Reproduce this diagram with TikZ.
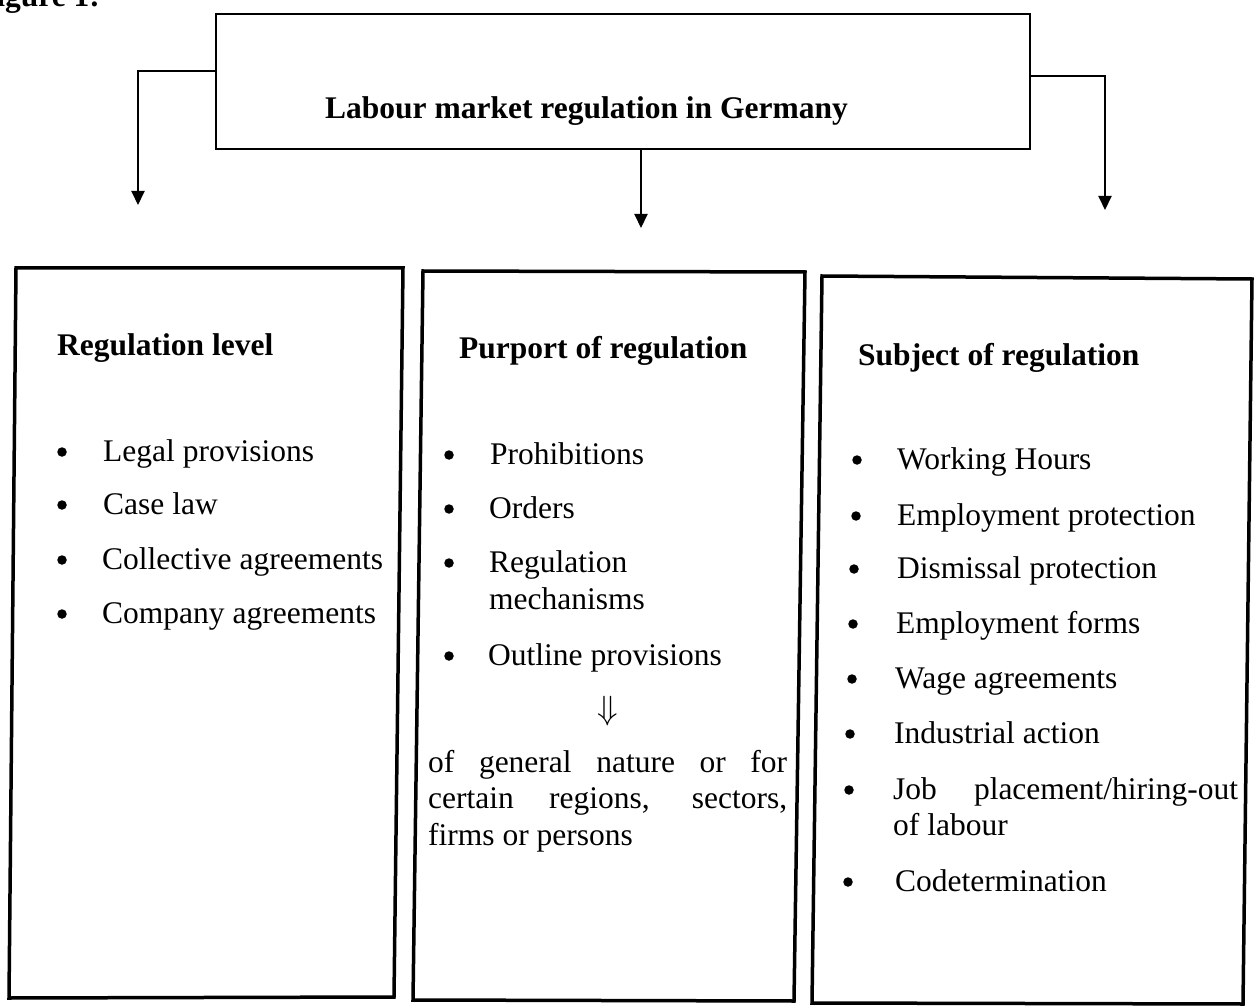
\documentclass[tikz,border=0pt]{standalone}
\usepackage{fontspec}
\setmainfont{Liberation Serif}
\usetikzlibrary{arrows.meta}
\begin{document}
\begin{tikzpicture}[x=1pt,y=-1pt,
  box/.style={line width=3.5pt, line join=miter},
  topbox/.style={draw, line width=2pt, minimum width=814pt, minimum height=135pt, inner sep=0pt},
  conn/.style={line width=2pt,-{Triangle[length=14pt,width=13pt]}},
  txt/.style={anchor=base west, inner sep=0pt, font=\fontsize{31.5}{37}\selectfont},
  head/.style={anchor=base west, inner sep=0pt, font=\fontsize{31.5}{37}\selectfont\bfseries},
  bul/.style={circle, fill, inner sep=0pt, minimum size=9.5pt},
  sym/.style={anchor=base, inner sep=0pt, font=\fontsize{31.5}{37}\selectfont}]
\useasboundingbox (0,0) rectangle (1259,1008);
\clip (0,0) rectangle (1259,1008);
\fill[white] (0,0) rectangle (1259,1008);

% caption (cut off at the page edge)
\node[head] (fig) at (-23,7) {Figure 1:};

% top box
\node[topbox] (top) at (623,81.5) {};
\node[head] (title) at (325,119) {Labour market regulation in Germany};

% arrow ends
\coordinate (lend) at (138,205);
\coordinate (cend) at (641,228);
\coordinate (rend) at (1105,210);
\draw[conn] ([yshift=10.5pt]top.west) -| (lend);
\draw[conn] (top.south -| cend) -- (cend);
\draw[conn] ([yshift=5.5pt]top.east) -| (rend);

% lower boxes (slightly skewed as in the scan)
\draw[box] (16,268) -- (403,268) -- (394,997) -- (9,998) -- cycle;
\draw[box] (423,271) -- (805,272) -- (794,1001) -- (413,1000) -- cycle;
\draw[box] (822,276) -- (1252,279) -- (1243,1004) -- (812,1003) -- cycle;

% left column
\node[head] (h1) at (57,356) {Regulation level};
\node[bul] (b11) at (62,452) {};
\node[txt] (t11) at (103,461) {Legal provisions};
\node[bul] (b12) at (62,505) {};
\node[txt] (t12) at (103,514) {Case law};
\node[bul] (b13) at (62,560) {};
\node[txt] (t13) at (102,569) {Collective agreements};
\node[bul] (b14) at (62,614) {};
\node[txt] (t14) at (102,623) {Company agreements};

% middle column
\node[head] (h2) at (459,359) {Purport of regulation};
\node[bul] (b21) at (449,455) {};
\node[txt] (t21) at (490,464) {Prohibitions};
\node[bul] (b22) at (449,509) {};
\node[txt] (t22) at (489,518) {Orders};
\node[bul] (b23) at (449,563) {};
\node[txt] (t23) at (489,572) {Regulation};
\node[txt] (t23b) at (489,609) {mechanisms};
\node[bul] (b24) at (449,656) {};
\node[txt] (t24) at (488,665) {Outline provisions};
\node[sym] (dn) at (608,719) {\scalebox{1.35}{$\Downarrow$}};
\node[txt] (p1) at (428,772) {\makebox[359pt][s]{of general nature or for}};
\node[txt] (p2) at (428,808) {\makebox[359pt][s]{certain regions, sectors,}};
\node[txt] (p3) at (428,845) {firms or persons};

% right column
\node[head] (h3) at (858,366) {Subject of regulation};
\node[bul] (b31) at (857,460) {};
\node[txt] (t31) at (897,469) {Working Hours};
\node[bul] (b32) at (856,516) {};
\node[txt] (t32) at (897,525) {Employment protection};
\node[bul] (b33) at (854,569) {};
\node[txt] (t33) at (897,578) {Dismissal protection};
\node[bul] (b34) at (853,624) {};
\node[txt] (t34) at (896,633) {Employment forms};
\node[bul] (b35) at (852,679) {};
\node[txt] (t35) at (895,688) {Wage agreements};
\node[bul] (b36) at (850,734) {};
\node[txt] (t36) at (894,743) {Industrial action};
\node[bul] (b37) at (849,790) {};
\node[txt] (t37) at (893,799) {\makebox[345pt][s]{Job placement/hiring-out}};
\node[txt] (t37b) at (893,835) {of labour};
\node[bul] (b38) at (848,882) {};
\node[txt] (t38) at (895,891) {Codetermination};
\end{tikzpicture}
\end{document}
